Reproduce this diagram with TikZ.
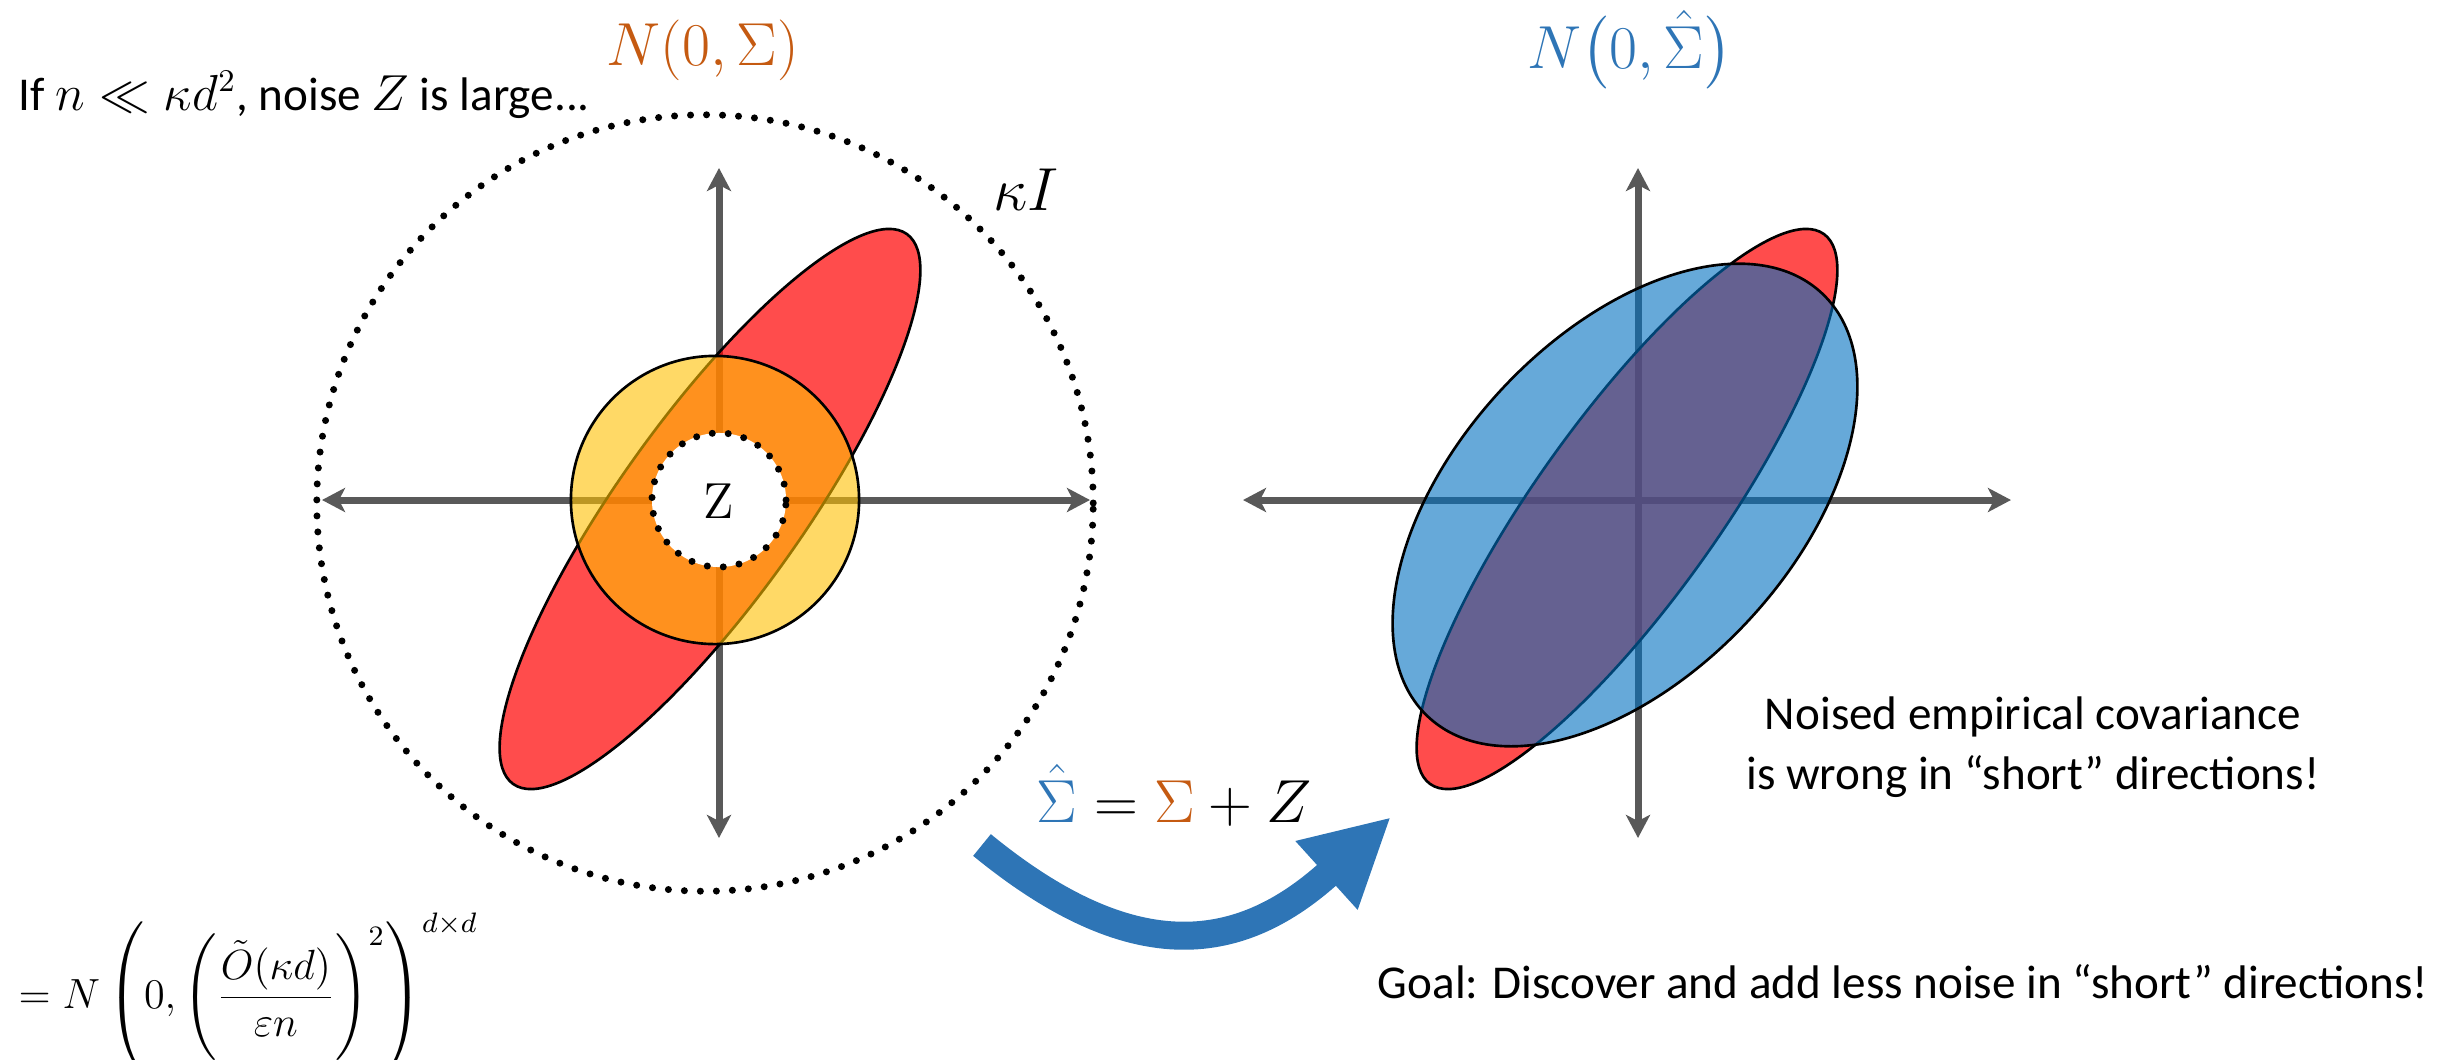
\documentclass[tikz,border=0pt]{standalone}
\usepackage{amsmath}
\usepackage[no-math]{fontspec}
\setmainfont{Carlito}
\usetikzlibrary{arrows.meta,positioning}

\definecolor{axisgray}{HTML}{595959}
\definecolor{ellred}{HTML}{FF0000}
\definecolor{noiseyellow}{HTML}{FFC000}
\definecolor{ellblue}{HTML}{0070C0}
\definecolor{sigorange}{HTML}{C55A11}
\definecolor{sigblue}{HTML}{2E75B6}

\begin{document}
\begin{tikzpicture}[x=0.01cm, y=-0.01cm,
    axis/.style={draw=axisgray, line width=0.07cm, {Stealth[length=0.23cm, width=0.24cm, inset=0.06cm]}-{Stealth[length=0.23cm, width=0.24cm, inset=0.06cm]}},
    redell/.style={fill=ellred, fill opacity=0.7, draw=black, line width=0.75pt},
    blueell/.style={fill=ellblue, fill opacity=0.6, draw=black, line width=0.75pt},
    noisecirc/.style={fill=noiseyellow, fill opacity=0.6, draw=black, line width=0.75pt},
    dotring/.style={draw=black, line width=0.07cm, line cap=round, dash pattern=on 0pt off 0.16cm},
    bigarrow/.style={draw=sigblue, line width=0.28cm, -{Triangle[length=0.87cm, width=0.86cm]}},
    txt/.style={font=\fontsize{13.4}{17}\selectfont, inner sep=0pt},
    mathtxt/.style={font=\fontsize{17}{20}\selectfont, inner sep=0pt},
]
\useasboundingbox (0,0) rectangle (2450,1060);

% Left: N(0,Sigma) with large noise
\coordinate (L-w) at (322,500);
\coordinate (L-e) at (1090,500);
\coordinate (L-s) at (719,838);
\coordinate (L-n) at (719,168);
\draw[axis] (L-w) -- (L-e);
\draw[axis] (L-s) -- (L-n);

\draw[redell, shift={(710,509)}, rotate=54.4] (0,0) ellipse [x radius=3.38cm, y radius=0.91cm];
\draw[noisecirc] (715,500) circle [radius=1.44cm];
\draw[dotring, fill=white] (719,500) circle [radius=0.67cm];
\draw[dotring] (705,503) circle [radius=3.88cm];

\node[font=\fontsize{15.5}{18}\selectfont, inner sep=0pt] (Z) at (719,501) {$\mathrm{Z}$};
\node[mathtxt, anchor=base] (kappaI) at (1026,210) {$\kappa I$};
\node[mathtxt, text=sigorange, anchor=base] (prior) at (703,65) {$N(0,\Sigma)$};
\node[txt, anchor=base west] (cond) at (18,110) {If $n \ll \kappa d^{2}$, noise $Z$ is large...};
\node[font=\fontsize{11.8}{14}\selectfont, inner sep=0pt, anchor=base west] (noisedist) at (18,1008)
  {$\displaystyle = N\left(0,\Biggl(\frac{\tilde{O}(\kappa d)}{\varepsilon n}\Biggr)^{2}\right)^{d\times d}$};

% Right: noised empirical covariance
\coordinate (R-w) at (1243,500);
\coordinate (R-e) at (2011,500);
\coordinate (R-s) at (1638,838);
\coordinate (R-n) at (1638,168);
\draw[axis] (R-w) -- (R-e);
\draw[axis] (R-s) -- (R-n);

\draw[redell, shift={(1627,509)}, rotate=54.4] (0,0) ellipse [x radius=3.38cm, y radius=0.91cm];
\draw[blueell, shift={(1625,505)}, rotate=47.2] (0,0) ellipse [x radius=2.89cm, y radius=1.69cm];

\node[mathtxt, text=sigblue, anchor=base] (post) at (1630,68) {$N\bigl(0,\hat{\Sigma}\bigr)$};
\node[txt, align=center] (wrong) at (2033,747) {Noised empirical covariance\\is wrong in “short” directions!};
\node[txt, anchor=base] (goal) at (1903,998) {Goal: Discover and add less noise in “short” directions!};

% Update arrow
\coordinate (tail) at (982,845);
\coordinate (tip) at (1391,817);
\draw[bigarrow] (tail) .. controls (1137,972) and (1243,951) .. (tip);
\node[mathtxt, anchor=base] (update) at (1174,822)
  {${\color{sigblue}\hat{\Sigma}} = {\color{sigorange}\Sigma} + Z$};

\end{tikzpicture}
\end{document}
